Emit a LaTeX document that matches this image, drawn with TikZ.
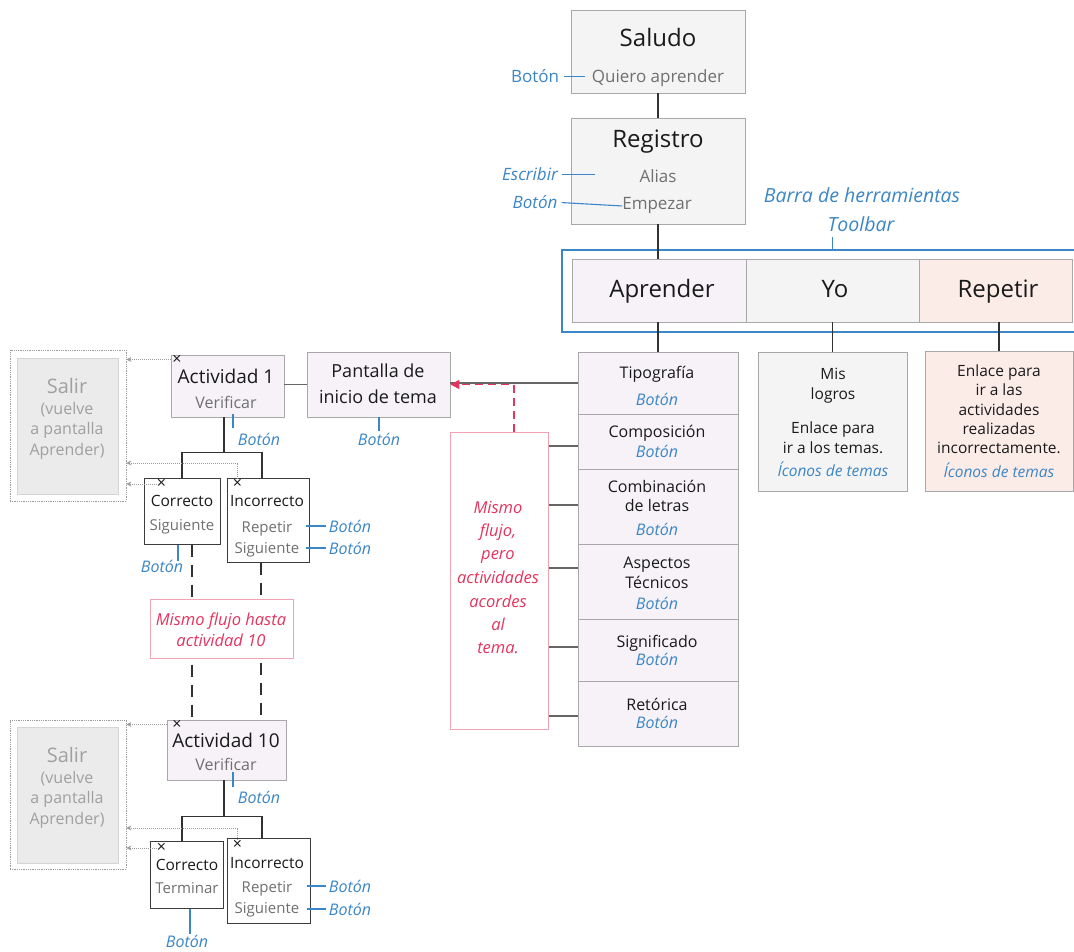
\documentclass[tikz,border=0pt]{standalone}
\usepackage{fontspec}
\setmainfont{Open Sans}
\usetikzlibrary{calc,arrows.meta}
\definecolor{bl}{HTML}{3B86C6}
\definecolor{redc}{HTML}{E5335E}
\definecolor{redb}{HTML}{F2A3B3}
\definecolor{flav}{HTML}{F6F2F8}
\definecolor{fgray}{HTML}{F4F4F4}
\definecolor{fpink}{HTML}{FCECE8}
\definecolor{fsal}{HTML}{EBEBEB}
\definecolor{bsal}{HTML}{D4D4D4}
\definecolor{boxgray}{HTML}{A8A8A8}
\definecolor{ink}{HTML}{1A1A1A}
\definecolor{subg}{HTML}{707070}
\definecolor{salg}{HTML}{A0A0A0}
\definecolor{dotg}{HTML}{9A9A9A}
\definecolor{conng}{HTML}{666666}
\newcommand\fsz[1]{\fontsize{#1}{#1}\selectfont}
\begin{document}
\begin{tikzpicture}[x=1pt,y=-1pt,
  box/.style={draw=boxgray,line width=0.9pt,inner sep=0pt},
  dbox/.style={draw=ink!85,line width=1pt,inner sep=0pt,fill=white},
  txt/.style={inner sep=0pt,anchor=base,text=ink},
  sub/.style={inner sep=0pt,anchor=base,text=subg},
  btn/.style={inner sep=0pt,anchor=base,text=bl},
  redt/.style={inner sep=0pt,anchor=base,text=redc},
  salt/.style={inner sep=0pt,anchor=base,text=salg},
  xm/.style={inner sep=0pt,text=ink,font=\fsz{16}},
  conn/.style={draw=ink!90,line width=1.8pt},
  mconn/.style={draw=conng,line width=1.5pt},
  dashc/.style={draw=ink!90,line width=1.5pt,dash pattern=on 12pt off 8pt},
  bline/.style={draw=bl,line width=1.1pt},
  exitarr/.style={draw=dotg,line width=1pt,densely dotted,-{Stealth[length=5pt,width=5pt]}},
  salo/.style={draw=dotg,line width=0.8pt,densely dotted,inner sep=0pt},
  sali/.style={draw=bsal,fill=fsal,line width=0.8pt,inner sep=0pt}]
\path[use as bounding box,fill=white] (0,0) rectangle (1074,952);

% ---------- top boxes ----------
\node[box,fill=fgray,minimum width=174,minimum height=83] (saludo) at (658,51.5) {};
\node[box,fill=fgray,minimum width=174,minimum height=106] (registro) at (658,171) {};
\node[box,fill=flav,minimum width=174,minimum height=63] (aprender) at (659,290.5) {};
\node[box,fill=fgray,minimum width=173,minimum height=63] (yo) at (832.5,290.5) {};
\node[box,fill=fpink,minimum width=153,minimum height=63] (repetir) at (995.5,290.5) {};
\draw[bl,line width=1.6pt] (1074,250) -- (562,250) -- (562,332) -- (1074,332);

% ---------- middle column ----------
\node[box,fill=flav,minimum width=160,minimum height=62] (tipografia) at (658,383) {};
\node[box,fill=flav,minimum width=160,minimum height=55] (composicion) at (658,441.5) {};
\node[box,fill=flav,minimum width=160,minimum height=75] (combinacion) at (658,506.5) {};
\node[box,fill=flav,minimum width=160,minimum height=75] (aspectos) at (658,581.5) {};
\node[box,fill=flav,minimum width=160,minimum height=62] (significado) at (658,650) {};
\node[box,fill=flav,minimum width=160,minimum height=65] (retorica) at (658,713.5) {};

\node[box,fill=fgray,minimum width=149,minimum height=139] (yobox) at (832.5,421.5) {};
\node[box,fill=fpink,minimum width=148,minimum height=140] (repbox) at (999,421) {};

\node[box,fill=flav,minimum width=143,minimum height=65] (pantalla) at (378.5,384.5) {};
\node[draw=redb,line width=1pt,inner sep=0pt,fill=white,minimum width=98,minimum height=297] (redbox) at (499,580.5) {};

% ---------- activity 1 ----------
\node[box,fill=flav,minimum width=113,minimum height=62] (act1) at (227.5,386) {};
\node[dbox,minimum width=76,minimum height=66] (corr1) at (182,511) {};
\node[dbox,minimum width=82,minimum height=84] (inc1) at (268,520) {};
\node[salo,minimum width=116,minimum height=151] (salir1o) at (68,425.5) {};
\node[sali,minimum width=101,minimum height=136] (salir1i) at (67.5,426) {};

% ---------- activity 10 ----------
\node[box,fill=flav,minimum width=119,minimum height=60] (act10) at (226.5,750) {};
\node[dbox,minimum width=73,minimum height=67] (corr10) at (186.5,874.5) {};
\node[dbox,minimum width=83,minimum height=85] (inc10) at (268.5,880.5) {};
\node[salo,minimum width=116,minimum height=149] (salir2o) at (68,794.5) {};
\node[sali,minimum width=101,minimum height=136] (salir2i) at (67.5,795) {};

% ---------- connectors ----------
\draw[conn] (saludo.south) -- (registro.north);
\draw[conn] (registro.south) -- (registro.south |- aprender.north);
\draw[conn] (tipografia.north |- aprender.south) -- (tipografia.north);
\draw[conn] (yobox.north |- yo.south) -- (yobox.north);
\draw[conn] (repbox.north |- repetir.south) -- (repbox.north);

\draw[mconn] (tipografia.west) -- (tipografia.west -| pantalla.east);
\draw[mconn] ($(composicion.west)+(0,4.5)$) -- ($(redbox.east |- composicion.west)+(0,4.5)$);
\draw[mconn] ($(combinacion.west)+(0,-1.5)$) -- ($(redbox.east |- combinacion.west)+(0,-1.5)$);
\draw[mconn] ($(aspectos.west)+(0,-13.5)$) -- ($(redbox.east |- aspectos.west)+(0,-13.5)$);
\draw[mconn] ($(significado.west)+(0,-3)$) -- ($(redbox.east |- significado.west)+(0,-3)$);
\draw[mconn] ($(retorica.west)+(0,2.5)$) -- ($(redbox.east |- retorica.west)+(0,2.5)$);
\draw[redc,line width=1.5pt,dash pattern=on 8pt off 5pt,-{Triangle[length=9pt,width=9pt]}]
  ([xshift=15pt]redbox.north) |- (pantalla.east);

\draw[mconn] (pantalla.west -| act1.east) -- (pantalla.west);

\coordinate (j1) at ($(act1.south)+(-3.5,35)$);
\draw[conn] ([xshift=-3.5pt]act1.south) -- (j1);
\draw[conn] (corr1.north) |- (j1) -| ([xshift=-6pt]inc1.north);
\draw[dashc] ([xshift=10pt]corr1.south) -- ([xshift=10pt]corr1.south |- act10.north);
\draw[dashc] ([xshift=-7pt]inc1.south) -- ([xshift=-7pt]inc1.south |- act10.north);

\node[draw=redb,line width=1pt,inner sep=0pt,fill=white,minimum width=143,minimum height=59] (mismo) at (221.5,628.5) {};

\coordinate (j2) at ($(act10.south)+(-2.5,36)$);
\draw[conn] ([xshift=-2.5pt]act10.south) -- (j2);
\draw[conn] ([xshift=-4.5pt]corr10.north) |- (j2) -| ([xshift=-6.5pt]inc10.north);

% ---------- x marks and exit arrows ----------
\node[xm] (xa1) at (177,359.5) {×};
\node[xm] (xc1) at (161.5,484) {×};
\node[xm] (xi1) at (237.5,484) {×};
\node[xm] (xa10) at (177,724.5) {×};
\node[xm] (xc10) at (161.5,848) {×};
\node[xm] (xi10) at (237.5,845) {×};
\draw[exitarr] (act1.west |- xa1.west) -- (xa1.west -| salir1o.east);
\draw[exitarr] (xi1.north) |- ($(salir1o.east)+(0,37.5)$);
\draw[exitarr] (xc1.west) -- (xc1.west -| salir1o.east);
\draw[exitarr] (act10.west |- xa10.west) -- (xa10.west -| salir2o.east);
\draw[exitarr] (xi10.north) |- ($(salir2o.east)+(0,33.5)$);
\draw[exitarr] (xc10.west) -- (xc10.west -| salir2o.east);

% ---------- texts: top ----------
\node[txt,font=\fsz{24}] (tsal) at (658,47) {Saludo};
\node[sub,font=\fsz{17}] (tqui) at (658,83) {Quiero aprender};
\node[btn,font=\fsz{17}] (b0) at (535,83) {Botón};
\draw[bline] ($(b0.east)+(5,0)$) -- ($(b0.east)+(26,0)$);
\node[txt,font=\fsz{24}] (treg) at (658,148) {Registro};
\node[sub,font=\fsz{17}] (tali) at (658,183) {Alias};
\node[sub,font=\fsz{17}] (temp) at (657,210) {Empezar};
\node[btn,font=\fsz{17}\itshape] (besc) at (530,181) {Escribir};
\draw[bline] ($(besc.east)+(4,0)$) -- ($(besc.east)+(37,0)$);
\node[btn,font=\fsz{17}\itshape] (b1) at (535,209) {Botón};
\draw[bline] ($(b1.east)+(4,0)$) -- (temp.west);
\node[btn,font=\fsz{19.5}\itshape] (tbarra) at (862,203) {Barra de herramientas};
\node[btn,font=\fsz{19.5}\itshape] (ttool) at (861,232) {Toolbar};
\draw[bline] (yo.north |- 0,237) coordinate (tk) -- (tk |- 0,250);
\node[txt,font=\fsz{24}] (tapr) at (662,298) {Aprender};
\node[txt,font=\fsz{24}] (tyo) at (835,298) {Yo};
\node[txt,font=\fsz{24}] (trep) at (998,298) {Repetir};

% ---------- texts: middle column ----------
\node[txt,font=\fsz{16}] (t1) at (657,378) {Tipografía};
\node[btn,font=\fsz{16}\itshape] (t1b) at (657,405) {Botón};
\node[txt,font=\fsz{16}] (t2) at (657,437) {Composición};
\node[btn,font=\fsz{16}\itshape] (t2b) at (657,457) {Botón};
\node[txt,font=\fsz{16}] (t3) at (657,492) {Combinación};
\node[txt,font=\fsz{16}] (t3a) at (657,511) {de letras};
\node[btn,font=\fsz{16}\itshape] (t3b) at (657,535) {Botón};
\node[txt,font=\fsz{16}] (t4) at (657,568) {Aspectos};
\node[txt,font=\fsz{16}] (t4a) at (657,588) {Técnicos};
\node[btn,font=\fsz{16}\itshape] (t4b) at (657,609) {Botón};
\node[txt,font=\fsz{16}] (t5) at (657,647) {Significado};
\node[btn,font=\fsz{16}\itshape] (t5b) at (657,665) {Botón};
\node[txt,font=\fsz{16}] (t6) at (657,710) {Retórica};
\node[btn,font=\fsz{16}\itshape] (t6b) at (657,728) {Botón};

% red box text
\node[redt,font=\fsz{16.5}\itshape] (r1) at (498,513) {Mismo};
\node[redt,font=\fsz{16.5}\itshape] (r2) at (498,536) {flujo,};
\node[redt,font=\fsz{16.5}\itshape] (r3) at (498,559) {pero};
\node[redt,font=\fsz{16.5}\itshape] (r4) at (498,583) {actividades};
\node[redt,font=\fsz{16.5}\itshape] (r5) at (498,607) {acordes};
\node[redt,font=\fsz{16.5}\itshape] (r6) at (498,630) {al};
\node[redt,font=\fsz{16.5}\itshape] (r7) at (498,653) {tema.};

% right boxes text
\node[txt,font=\fsz{15.5}] (y1) at (833,379) {Mis};
\node[txt,font=\fsz{15.5}] (y2) at (833,399) {logros};
\node[txt,font=\fsz{15.5}] (y3) at (833,433) {Enlace para};
\node[txt,font=\fsz{15.5}] (y4) at (833,453) {ir a los temas.};
\node[btn,font=\fsz{15.5}\itshape] (y5) at (833,476) {Íconos de temas};
\node[txt,font=\fsz{15.5}] (p1) at (999,376) {Enlace para};
\node[txt,font=\fsz{15.5}] (p2) at (999,395) {ir a las};
\node[txt,font=\fsz{15.5}] (p3) at (999,415) {actividades};
\node[txt,font=\fsz{15.5}] (p4) at (999,434) {realizadas};
\node[txt,font=\fsz{15.5}] (p5) at (999,453) {incorrectamente.};
\node[btn,font=\fsz{15.5}\itshape] (p6) at (999,477) {Íconos de temas};

% pantalla
\node[txt,font=\fsz{18}] (pa1) at (378,377) {Pantalla de};
\node[txt,font=\fsz{18}] (pa2) at (378,403) {inicio de tema};
\node[btn,font=\fsz{16}\itshape] (pab) at (379,445) {Botón};
\draw[bline] (pantalla.south -| pab.north) -- ($(pab.north)+(0,-2)$);

% ---------- texts: activity 1 ----------
\node[txt,font=\fsz{19}] (a1) at (226,383) {Actividad 1};
\node[sub,font=\fsz{16}] (a1v) at (226,408) {Verificar};
\node[btn,font=\fsz{16}\itshape] (a1b) at (259,445) {Botón};
\draw[bline] ($(act1.south)+(5.5,-3)$) -- ($(act1.south)+(5.5,11)$);
\node[txt,font=\fsz{15.5}] (c1) at (182,506) {Correcto};
\node[sub,font=\fsz{15}] (c1s) at (182,530) {Siguiente};
\node[btn,font=\fsz{16}\itshape] (c1b) at (162,572) {Botón};
\draw[bline] ($(corr1.south)+(-4,0)$) -- ($(corr1.south)+(-4,16)$);
\node[txt,font=\fsz{15.5}] (i1) at (267,506) {Incorrecto};
\node[sub,font=\fsz{15}] (i1r) at (267,532) {Repetir};
\node[sub,font=\fsz{15}] (i1s) at (267,553) {Siguiente};
\node[btn,font=\fsz{16}\itshape] (i1b1) at (350,532) {Botón};
\node[btn,font=\fsz{16}\itshape] (i1b2) at (350,554) {Botón};
\draw[bline] ($(i1b1.west)+(-3,0)$) -- ($(i1b1.west -| inc1.east)+(-4,0)$);
\draw[bline] ($(i1b2.west)+(-3,0)$) -- ($(i1b2.west -| inc1.east)+(-4,0)$);
\node[salt,font=\fsz{20}] (s1a) at (67,393) {Salir};
\node[salt,font=\fsz{16}] (s1b) at (67,414) {(vuelve};
\node[salt,font=\fsz{16}] (s1c) at (67,434) {a pantalla};
\node[salt,font=\fsz{16}] (s1d) at (67,455) {Aprender)};

% mismo flujo
\node[redt,font=\fsz{16.5}\itshape] (m1) at (221,625) {Mismo flujo hasta};
\node[redt,font=\fsz{16.5}\itshape] (m2) at (221,646) {actividad 10};

% ---------- texts: activity 10 ----------
\node[txt,font=\fsz{19}] (a10) at (226,747) {Actividad 10};
\node[sub,font=\fsz{16}] (a10v) at (226,770) {Verificar};
\node[btn,font=\fsz{16}\itshape] (a10b) at (259,803) {Botón};
\draw[bline] ($(act10.south)+(6.5,-8)$) -- ($(act10.south)+(6.5,7)$);
\node[txt,font=\fsz{15.5}] (c10) at (187,870) {Correcto};
\node[sub,font=\fsz{15}] (c10t) at (187,893) {Terminar};
\node[btn,font=\fsz{16}\itshape] (c10b) at (187,947) {Botón};
\draw[bline] ($(corr10.south)+(3.5,0)$) -- ($(corr10.south)+(3.5,25)$);
\node[txt,font=\fsz{15.5}] (i10) at (267,868) {Incorrecto};
\node[sub,font=\fsz{15}] (i10r) at (267,892) {Repetir};
\node[sub,font=\fsz{15}] (i10s) at (267,913) {Siguiente};
\node[btn,font=\fsz{16}\itshape] (i10b1) at (350,892) {Botón};
\node[btn,font=\fsz{16}\itshape] (i10b2) at (350,915) {Botón};
\draw[bline] ($(i10b1.west)+(-3,0)$) -- ($(i10b1.west -| inc10.east)+(-4,0)$);
\draw[bline] ($(i10b2.west)+(-3,0)$) -- ($(i10b2.west -| inc10.east)+(-4,0)$);
\node[salt,font=\fsz{20}] (s2a) at (67,762) {Salir};
\node[salt,font=\fsz{16}] (s2b) at (67,783) {(vuelve};
\node[salt,font=\fsz{16}] (s2c) at (67,803) {a pantalla};
\node[salt,font=\fsz{16}] (s2d) at (67,824) {Aprender)};
\end{tikzpicture}
\end{document}
